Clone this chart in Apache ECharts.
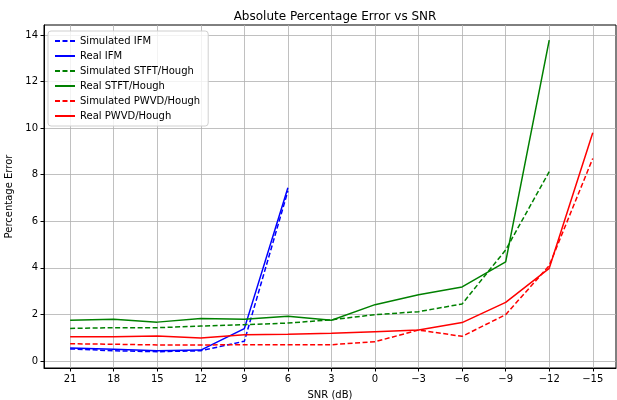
<!DOCTYPE html>
<html>
<head>
<meta charset="utf-8">
<script src="https://cdn.jsdelivr.net/npm/echarts@6/dist/echarts.min.js"></script>
<style>
html, body { margin: 0; padding: 0; background: #fff; }
#chart { width: 617px; height: 400px; }
</style>
</head>
<body>
<div id="chart"></div>
<script>
// SNR values (dB), plotted left to right
var snr = [21, 18, 15, 12, 9, 6, 3, 0, -3, -6, -9, -12, -15];
var yTicks = [0, 2, 4, 6, 8, 10, 12, 14];

var simIFM = [0.52, 0.44, 0.40, 0.44, 0.85, 7.3];
var realIFM = [0.56, 0.50, 0.44, 0.47, 1.39, 7.44];
var simSTFT = [1.40, 1.43, 1.43, 1.50, 1.56, 1.63, 1.77, 1.99, 2.12, 2.45, 4.77, 8.13];
var realSTFT = [1.75, 1.79, 1.67, 1.83, 1.79, 1.92, 1.75, 2.42, 2.85, 3.18, 4.26, 13.78];
var simPWVD = [0.74, 0.72, 0.69, 0.69, 0.70, 0.70, 0.70, 0.83, 1.33, 1.06, 1.99, 4.1, 8.70];
var realPWVD = [1.04, 1.04, 1.07, 0.99, 1.13, 1.15, 1.19, 1.26, 1.33, 1.65, 2.52, 3.98, 9.80];

function pairs(vals) {
    var out = [];
    for (var i = 0; i < vals.length; i++) {
        out.push([snr[i], vals[i]]);
    }
    return out;
}

function minusLabel(v) {
    return v < 0 ? '\u2212' + (-v) : String(v);
}

function makeSeries(name, vals, color, dashed) {
    return {
        name: name,
        type: 'line',
        data: pairs(vals),
        symbol: 'none',
        animation: false,
        lineStyle: { color: color, width: 1.5, type: dashed ? [5, 2.5] : 'solid' },
        itemStyle: { color: color }
    };
}

var chart = echarts.init(document.getElementById('chart'));

var option = {
    backgroundColor: '#fff',
    textStyle: { fontFamily: 'DejaVu Sans' },
    title: {
        text: 'Absolute Percentage Error vs SNR',
        left: 330, top: 6, textAlign: 'center',
        textStyle: { fontSize: 12, fontWeight: 'normal', color: '#000', fontFamily: 'DejaVu Sans' }
    },
    legend: {
        orient: 'vertical',
        left: 48, top: 31,
        itemWidth: 20, itemHeight: 10, itemGap: 5,
        padding: [5, 8, 5, 6],
        backgroundColor: 'rgba(255,255,255,0.8)',
        borderColor: '#d0d0d0', borderWidth: 1, borderRadius: 3,
        itemStyle: { opacity: 0 },
        textStyle: { fontSize: 10, color: '#000', fontFamily: 'DejaVu Sans' }
    },
    grid: {
        left: 44, right: 1, top: 25, bottom: 32,
        outerBoundsMode: 'none',
        show: true, borderColor: '#000', borderWidth: 1
    },
    xAxis: {
        type: 'value',
        inverse: true,
        min: -16.6, max: 22.8,
        name: 'SNR (dB)',
        nameLocation: 'middle', nameGap: 22,
        nameTextStyle: { fontSize: 10, color: '#000' },
        axisLine: { show: true, onZero: false, lineStyle: { color: '#000' } },
        axisTick: { show: true, length: 3.5, customValues: snr, lineStyle: { color: '#000' } },
        axisLabel: { fontSize: 10, color: '#000', margin: 6, customValues: snr, formatter: minusLabel },
        splitLine: { show: true, lineStyle: { color: '#b0b0b0', width: 0.8 } }
    },
    yAxis: {
        type: 'value',
        min: -0.3, max: 14.43,
        name: 'Percentage Error',
        nameLocation: 'middle', nameGap: 28,
        nameTextStyle: { fontSize: 10, color: '#000' },
        axisLine: { show: true, onZero: false, lineStyle: { color: '#000' } },
        axisTick: { show: true, length: 3.5, customValues: yTicks, lineStyle: { color: '#000' } },
        axisLabel: { fontSize: 10, color: '#000', margin: 6, customValues: yTicks },
        splitLine: { show: true, lineStyle: { color: '#b0b0b0', width: 0.8 } }
    },
    series: [
        makeSeries('Simulated IFM', simIFM, '#0000ff', true),
        makeSeries('Real IFM', realIFM, '#0000ff', false),
        makeSeries('Simulated STFT/Hough', simSTFT, '#008000', true),
        makeSeries('Real STFT/Hough', realSTFT, '#008000', false),
        makeSeries('Simulated PWVD/Hough', simPWVD, '#ff0000', true),
        makeSeries('Real PWVD/Hough', realPWVD, '#ff0000', false)
    ]
};

chart.setOption(option);
</script>
</body>
</html>
